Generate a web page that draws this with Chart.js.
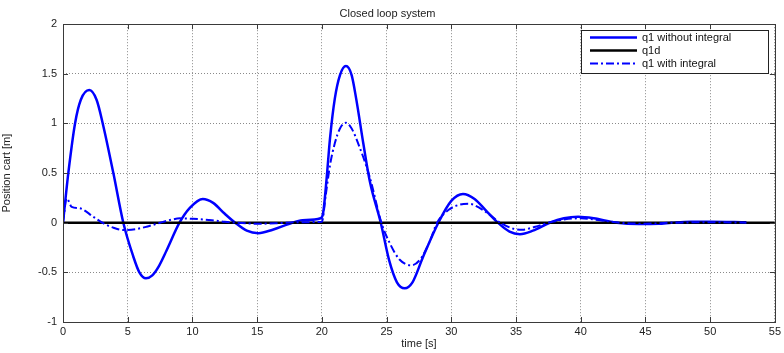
<!DOCTYPE html>
<html>
<head>
<meta charset="utf-8">
<script src="https://cdn.jsdelivr.net/npm/chart.js@4/dist/chart.umd.min.js"></script>
<style>
html,body{margin:0;padding:0;background:#fff;}
#wrap{width:784px;height:353px;position:relative;}
</style>
</head>
<body>
<div id="wrap"><canvas id="c" width="784" height="353"></canvas></div>
<script>
// ---- data ----
const chartTitle = 'Closed loop system';
const xTitle = 'time [s]';
const yTitle = 'Position cart [m]';
const seriesNames = ['q1 without integral', 'q1d', 'q1 with integral'];
const xTickValues = [0,5,10,15,20,25,30,35,40,45,50,55];
const yTickValues = [-1,-0.5,0,0.5,1,1.5,2];

const tWithout = [0,0.2,0.41,0.93,1.37,2.03,2.6,3.07,3.89,4.66,5.43,5.9,6.41,6.9,7.4,8.0,9.0,9.8,10.8,11.6,12.5,13.3,14.2,15.1,16.2,17.5,18.5,19.9,20.1,20.37,20.63,21.0,21.4,21.86,22.3,22.65,23.2,23.7,24.55,25.2,25.8,26.4,27.0,27.8,29.0,30.0,30.9,31.8,32.7,33.6,34.5,35.3,36.3,37.6,38.7,39.8,41.0,42.8,44.5,46.0,47.0,48.5,50.0,52.8];
const q1Without = [0,0.25,0.5,1.0,1.236,1.336,1.236,1.0,0.5,0.0,-0.34,-0.5,-0.56,-0.53,-0.44,-0.28,0.0,0.15,0.24,0.2,0.09,0.0,-0.08,-0.105,-0.07,-0.01,0.025,0.045,0.1,0.45,0.85,1.25,1.487,1.578,1.487,1.25,0.8,0.42,0.0,-0.38,-0.6,-0.66,-0.6,-0.35,0.0,0.22,0.29,0.24,0.12,0.0,-0.09,-0.115,-0.08,0.0,0.045,0.06,0.045,0.0,-0.012,-0.01,0.0,0.01,0.01,0.005];

const tWith = [0,0.28,0.67,1.31,2.34,3.1,3.9,4.66,5.6,6.46,7.5,8.27,9.04,10.0,11.5,12.5,13.5,15.0,16.5,18.0,20.0,20.3,20.63,21.0,21.4,21.86,22.3,22.8,23.7,24.6,25.3,26.0,26.9,27.6,28.3,28.9,29.8,30.6,31.4,32.3,33.8,34.8,35.5,36.5,37.5,38.8,40.0,41.5,43.0,45.0,47.0,50.0,52.8];
const q1With = [0,0.245,0.16,0.145,0.06,-0.005,-0.05,-0.073,-0.065,-0.04,0.0,0.027,0.044,0.04,0.025,0.01,0.0,-0.01,-0.005,0.005,0.01,0.28,0.58,0.8,0.95,1.007,0.95,0.8,0.46,0.0,-0.22,-0.37,-0.43,-0.37,-0.2,0.0,0.13,0.18,0.19,0.14,0.0,-0.06,-0.07,-0.04,0.0,0.035,0.045,0.025,0.0,-0.01,0.0,0.005,0.0];

const tRef = [0,55];
const q1d = [0,0];

const toPts = (xs, ys) => xs.map((x,i) => ({x:x, y:ys[i]}));

// ---- plugins ----
const frame = {
  id: 'frame',
  afterDraw(chart) {
    const ctx = chart.ctx, a = chart.chartArea;
    const xs = chart.scales.x, ys = chart.scales.y;
    ctx.save();
    ctx.strokeStyle = '#3a3a3a';
    ctx.lineWidth = 1;
    ctx.beginPath();
    const L = 5;
    xTickValues.forEach(v => {
      const px = Math.round(xs.getPixelForValue(v)) + 0.5;
      ctx.moveTo(px, a.bottom); ctx.lineTo(px, a.bottom - L);
      ctx.moveTo(px, a.top); ctx.lineTo(px, a.top + L);
    });
    yTickValues.forEach(v => {
      const py = Math.round(ys.getPixelForValue(v)) + 0.5;
      ctx.moveTo(a.left, py); ctx.lineTo(a.left + L, py);
      ctx.moveTo(a.right, py); ctx.lineTo(a.right - L, py);
    });
    ctx.stroke();
    ctx.strokeRect(Math.round(a.left)+0.5, Math.round(a.top)+0.5, Math.round(a.right-a.left), Math.round(a.bottom-a.top));

    // legend box
    const bx = 581, by = 30, bw = 187, bh = 43;
    ctx.fillStyle = '#fff';
    ctx.fillRect(bx, by, bw, bh);
    ctx.strokeStyle = '#222';
    ctx.strokeRect(bx+0.5, by+0.5, bw, bh);
    const rows = [37.5, 50.5, 63.5];
    chart.data.datasets.forEach((ds, i) => {
      ctx.beginPath();
      ctx.strokeStyle = ds.borderColor;
      ctx.lineWidth = ds.borderWidth;
      ctx.setLineDash(ds.borderDash || []);
      ctx.moveTo(590, rows[i]); ctx.lineTo(637, rows[i]);
      ctx.stroke();
      ctx.setLineDash([]);
      ctx.fillStyle = '#111';
      ctx.font = '11px "Liberation Sans", Arial, sans-serif';
      ctx.textBaseline = 'middle';
      ctx.textAlign = 'left';
      ctx.fillText(ds.label, 642, rows[i] + 0.5);
    });
    ctx.restore();
  }
};

const fontBase = {family: '"Liberation Sans", Arial, sans-serif', size: 11, weight: 'normal'};

new Chart(document.getElementById('c'), {
  type: 'line',
  data: {
    datasets: [
      {label: seriesNames[0], data: toPts(tWithout, q1Without), borderColor: '#0000ff', borderWidth: 2.5, pointRadius: 0, cubicInterpolationMode: 'monotone', order: 3, fill: false},
      {label: seriesNames[1], data: toPts(tRef, q1d), borderColor: '#000000', borderWidth: 2.5, pointRadius: 0, order: 2, fill: false},
      {label: seriesNames[2], data: toPts(tWith, q1With), borderColor: '#0000ff', borderWidth: 2, borderDash: [8,3,2,3], pointRadius: 0, cubicInterpolationMode: 'monotone', order: 1, fill: false}
    ]
  },
  options: {
    responsive: false,
    animation: false,
    layout: {padding: {left: 0, right: 9, top: 0, bottom: 0}},
    plugins: {
      legend: {display: false},
      tooltip: {enabled: false},
      title: {display: true, text: chartTitle, color: '#222', font: fontBase, padding: {top: 7, bottom: 4}}
    },
    scales: {
      x: {
        type: 'linear', min: 0, max: 55,
        afterBuildTicks(s) { s.ticks = xTickValues.map(v => ({value: v})); },
        afterFit(s) { s.height = 31; },
        ticks: {color: '#222', font: fontBase, padding: 3, maxRotation: 0, autoSkip: false, callback: v => String(v)},
        grid: {color: '#8a8a8a', lineWidth: 1, drawTicks: false},
        border: {display: false, dash: [1,2]},
        title: {display: true, text: xTitle, color: '#222', font: fontBase, padding: {top: 0, bottom: 2}}
      },
      y: {
        type: 'linear', min: -1, max: 2,
        afterBuildTicks(s) { s.ticks = yTickValues.map(v => ({value: v})); },
        afterFit(s) { s.width = 63; },
        ticks: {color: '#222', font: fontBase, padding: 6, autoSkip: false, callback: v => String(v)},
        grid: {color: '#8a8a8a', lineWidth: 1, drawTicks: false},
        border: {display: false, dash: [1,2]},
        title: {display: true, text: yTitle, color: '#222', font: fontBase, padding: {top: 0, bottom: 4}}
      }
    }
  },
  plugins: [frame]
});
</script>
</body>
</html>
